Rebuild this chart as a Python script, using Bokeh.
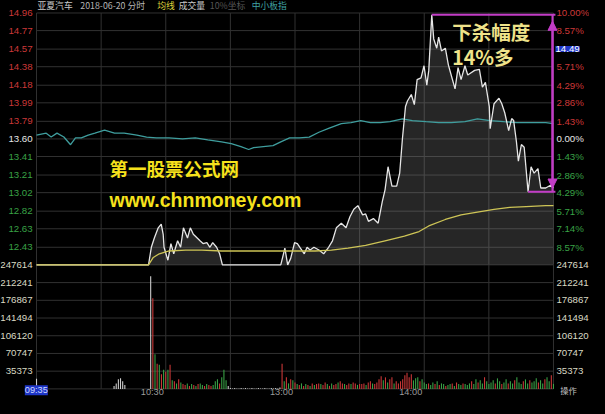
from bokeh.plotting import figure
from bokeh.models import Range1d, Label, Arrow, NormalHead
from bokeh.core.properties import value
from bokeh.embed import file_html
from bokeh.resources import INLINE

# ------------------------------------------------------------------ data
header_texts = ["亚夏汽车", "2018-06-20 分时", "均线", "成交量", "10%坐标", "中小板指"]
prev_close = 13.60
limit_up = 14.96
limit_down = 12.24

price_ticks = [14.96, 14.77, 14.57, 14.38, 14.18, 13.99, 13.79, 13.60,
               13.41, 13.21, 13.02, 12.82, 12.63, 12.43]
price_tick_labels = ["14.96", "14.77", "14.57", "14.38", "14.18", "13.99", "13.79", "13.60",
                     "13.41", "13.21", "13.02", "12.82", "12.63", "12.43"]
pct_tick_labels = ["10.00%", "8.57%", "7.14%", "5.71%", "4.29%", "2.86%", "1.43%", "0.00%",
                   "1.43%", "2.86%", "4.29%", "5.71%", "7.14%", "8.57%"]
cursor_price_label = "14.49"
vol_ticks = [247614, 212241, 176867, 141494, 106120, 70747, 35373]
vol_tick_labels = ["247614", "212241", "176867", "141494", "106120", "70747", "35373"]
time_tick_minutes = [60, 120, 180]
time_tick_labels = ["10:30", "13:00", "14:00"]
grid_minutes = [30, 60, 90, 120, 150, 180, 210]
cursor_time_label = "09:35"
corner_label = "操作"
drop_title = "下杀幅度"
drop_value = "14%多"
watermark_cn = "第一股票公式网"
watermark_url = "www.chnmoney.com"

# minute since 09:30 (0..240) and price
price_min = [0, 52.0, 53.3, 54.7, 56.5, 57.9, 58.8, 59.2, 61.0, 62.4,
             63.7, 65.5, 66.9, 68.2, 70.1, 71.4, 72.8, 74.6, 75.9, 77.3,
             79.1, 80.5, 81.8, 83.6, 85.0, 86.3, 113.4, 115.3, 116.6, 118.0,
             119.8, 121.1, 122.5, 124.3, 125.6, 127.0, 128.8, 131.1, 133.3, 135.6,
             137.4, 139.2, 141.5, 143.7, 145.5, 147.3, 149.2, 151.4, 152.8, 154.1,
             156.4, 158.6, 160.5, 161.8, 163.2, 165.0, 167.2, 168.6, 169.9, 171.3,
             172.2, 174.0, 175.4, 176.7, 178.5, 179.9, 181.2, 182.1, 183.5, 184.4,
             185.8, 186.7, 188.0, 189.8, 191.2, 192.5, 194.3, 195.7, 197.1, 198.9,
             200.2, 203.4, 205.6, 207.0, 208.4, 210.2, 210.6, 212.4, 214.7, 216.0,
             217.4, 219.2, 220.6, 221.5, 222.8, 223.7, 225.1, 226.4, 228.2, 229.6,
             231.0, 232.8, 234.1, 236.4, 238.6, 240]
price_val = [12.24, 12.24, 12.43, 12.53, 12.64, 12.68, 12.57, 12.43, 12.29, 12.47,
             12.36, 12.50, 12.43, 12.64, 12.53, 12.64, 12.57, 12.53, 12.50, 12.47,
             12.48, 12.43, 12.48, 12.43, 12.36, 12.24, 12.24, 12.42, 12.24, 12.31,
             12.48, 12.47, 12.42, 12.36, 12.43, 12.40, 12.43, 12.40, 12.36, 12.43,
             12.50, 12.64, 12.69, 12.64, 12.76, 12.84, 12.88, 12.78, 12.79, 12.71,
             12.74, 12.69, 12.92, 13.05, 13.30, 13.09, 13.09, 13.23, 13.61, 13.95,
             14.01, 14.08, 13.97, 14.24, 14.26, 14.39, 14.18, 14.34, 14.94, 14.68,
             14.58, 14.70, 14.55, 14.58, 14.40, 14.29, 14.14, 14.37, 14.24, 14.39,
             14.29, 14.34, 14.35, 14.16, 14.21, 13.95, 13.71, 13.98, 14.04, 13.98,
             13.88, 13.69, 13.82, 13.80, 13.57, 13.36, 13.54, 13.51, 13.03, 13.30,
             13.23, 13.28, 13.07, 13.07, 13.10, 13.07]

avg_min = [0, 52.0, 54.2, 57.0, 61.5, 69.2, 76.8, 85.9, 91.8, 106.7,
           114.3, 122.0, 129.3, 136.9, 144.6, 152.8, 161.8, 170.8, 177.6, 182.1,
           189.8, 197.1, 204.7, 212.4, 219.7, 227.3, 236.4, 240]
avg_val = [12.24, 12.24, 12.32, 12.36, 12.39, 12.40, 12.40, 12.39, 12.39, 12.39,
           12.39, 12.39, 12.39, 12.40, 12.42, 12.45, 12.50, 12.55, 12.60, 12.66,
           12.73, 12.78, 12.81, 12.84, 12.86, 12.87, 12.88, 12.88]

index_min = [0, 4.5, 6.8, 9.5, 12.7, 15.8, 18.1, 20.8, 24.0, 27.1,
             31.6, 36.2, 40.7, 46.6, 51.1, 55.6, 61.5, 67.8, 73.7, 79.5,
             85.9, 90.4, 94.9, 98.5, 100.8, 105.3, 109.8, 113.4, 117.5, 122.0,
             126.6, 131.1, 135.6, 141.5, 146.0, 150.5, 155.0, 159.5, 164.1, 169.9,
             174.5, 180.8, 186.7, 192.5, 198.9, 204.7, 210.6, 216.9, 222.8, 230.5,
             236.4, 240]
index_pct = [0.31, 0.46, 0.15, 0.46, 0.15, -0.46, 0.08, 0.08, 0.31, 0.46,
             0.69, 0.46, 0.46, 0.31, 0.15, 0.08, 0.08, 0.00, 0.08, -0.08,
             -0.23, -0.38, -0.61, -0.84, -0.69, -0.61, -0.53, -0.23, 0.08, 0.08,
             0.15, 0.53, 0.84, 1.22, 1.30, 1.45, 1.30, 1.30, 1.37, 1.60,
             1.45, 1.37, 1.30, 1.30, 1.37, 1.60, 1.45, 1.37, 1.30, 1.30,
             1.30, 1.22]

# per-minute volume (thousand shares), minute 0..240
vol_k = ([20] + [0] * 35 + [6, 11, 19, 21, 15, 8] + [0] * 11 + [225]
         + [181, 69, 50, 48, 29, 38, 34, 38, 48, 17, 15, 11, 19, 13, 10]
         + [8, 11, 6, 10, 8, 6, 10, 11, 8, 6, 10, 8]
         + [6, 8, 15, 19, 11, 23, 38, 17]
         + [6, 2, 1, 2, 1, 1, 2, 1, 2, 1, 1, 2, 1, 1, 2, 1, 1, 2, 1, 1, 2, 1, 2, 1, 3]
         + [50, 15, 23, 11, 19, 17, 13]
         + [10, 8, 11, 6, 10, 8, 6, 11, 8, 10]
         + [11, 10, 8, 13, 10, 6, 11, 8, 10, 13, 15, 11, 10, 8, 11, 10, 13, 11, 8, 10]
         + [10, 11, 8, 13, 15, 11, 10, 13]
         + [19, 25, 17, 23, 13, 19, 23, 11, 15]
         + [11, 15, 19]
         + [27, 32, 23, 29]
         + [17, 21, 23, 15, 19, 13]
         + [10, 11, 8, 13, 10, 15, 8, 11, 10, 6]
         + [8, 10, 11, 6, 13, 10, 8, 11, 10, 8]
         + [11, 15, 10, 19, 13, 17, 11, 23, 15, 10]
         + [13, 17, 11, 21, 15, 10, 13, 19, 11, 15]
         + [11, 17, 23, 13, 10, 15, 19, 11, 17, 13]
         + [15, 21, 13, 17, 11, 19, 23, 15, 27, 10])
vol_dir = ("w" * 54 + "rgrgrgrgrgrgrgr" + "rgrgrgrggrgr" + "rgggrggg" + "w" * 25
           + "rgrgrgr" + "grgrgrgrgr" + "rgrrgrgrrgrrgrrgrrgr" + "rrgrrgrr"
           + "rrgrgrrgr" + "rrr" + "rrrr" + "gggrgg" + "grggrgrggr" + "ggrgrggrgg"
           + "grggrggrgg" + "ggrggrggrg" + "grgggrggrg" + "ggrggrggrg")

# ------------------------------------------------------------------ layout
W, H = 589, 398
REF_W, REF_H = 605, 414
CH_L, CH_R = 37, 568      # chart left / right edge (layout px)
PR_T, PR_B = 13, 275      # price panel top / bottom
VO_B = 404                # volume panel bottom


def mx(px):
    return (px - CH_L) * 240.0 / (CH_R - CH_L)


def py(px):
    return limit_up - (px - PR_T) * (limit_up - limit_down) / (PR_B - PR_T)


def vy(px):
    return vol_ticks[0] * (VO_B - px) / (VO_B - PR_B)


def to_pct(pr):
    return (pr / prev_close - 1.0) * 100.0


def fs(px):
    return "%.1fpx" % (px * W / REF_W)


RED, GREEN, WHITE = "#cc3838", "#39a246", "#e6e6e6"
GRID = "#313131"
MAG = "#c23cc6"
LBL = "Liberation Sans"
CJK = "Noto Sans CJK SC"

p = figure(width=W, height=H, output_backend="svg", toolbar_location=None,
           x_range=Range1d(mx(0), mx(REF_W)), y_range=Range1d(py(REF_H), py(0)),
           x_axis_location=None, y_axis_location=None, min_border=0,
           background_fill_color="#000000", border_fill_color="#000000",
           outline_line_color=None)
p.xgrid.visible = False
p.ygrid.visible = False
p.extra_y_ranges = {"vol": Range1d(vy(REF_H), vy(0)),
                    "pct": Range1d(to_pct(py(REF_H)), to_pct(py(0)))}

try:
    from bokeh.models import GlobalInlineStyleSheet
    p.stylesheets = [GlobalInlineStyleSheet(css="html, body { background: #000000; }")]
    _css_ok = True
except Exception:
    _css_ok = False

# ---------------- grid
hl = price_ticks + [limit_down]
p.segment(x0=[0] * len(hl), x1=[240] * len(hl), y0=hl, y1=hl, line_color=GRID, line_width=1)
vl = vol_ticks[1:] + [0]
p.segment(x0=[0] * len(vl), x1=[240] * len(vl), y0=vl, y1=vl, line_color=GRID,
          line_width=1, y_range_name="vol")
vx = grid_minutes + [0, 240]
p.segment(x0=vx, x1=vx, y0=[limit_down] * len(vx), y1=[limit_up] * len(vx),
          line_color=GRID, line_width=1)
p.segment(x0=vx, x1=vx, y0=[0] * len(vx), y1=[vol_ticks[0]] * len(vx),
          line_color=GRID, line_width=1, y_range_name="vol")

# ---------------- volume bars
n = min(len(vol_k), len(vol_dir), 241)
cmap = {"r": RED, "g": GREEN, "w": "#cfcfcf"}
bx = [i for i in range(n) if vol_k[i] > 0]
p.vbar(x=bx, top=[vol_k[i] * 1000 for i in bx], bottom=0, width=0.5,
       fill_color=[cmap[vol_dir[i]] for i in bx], line_color=None, y_range_name="vol")

# ---------------- price area, index, price, average
p.varea(x=price_min, y1=limit_down, y2=price_val, fill_color="#8a8a8a", fill_alpha=0.28)
p.line(index_min, index_pct, line_color="#3f9e9e", line_width=1.3, y_range_name="pct")
p.line(price_min, price_val, line_color=WHITE, line_width=1.3)
p.line(avg_min, avg_val, line_color="#cdc456", line_width=1.3)

# ---------------- drop annotation (from the high to the later low)
i_hi = max(range(len(price_val)), key=lambda i: price_val[i])
hi_m, hi_p = price_min[i_hi], price_val[i_hi]
i_lo = min(range(i_hi, len(price_val)), key=lambda i: price_val[i])
lo_m, lo_p = price_min[i_lo], price_val[i_lo]
xa = mx(567)
p.segment(x0=[hi_m, lo_m], x1=[mx(570), mx(570)], y0=[hi_p, lo_p], y1=[hi_p, lo_p],
          line_color=MAG, line_width=2)
p.segment(x0=[xa], x1=[xa], y0=[hi_p], y1=[lo_p], line_color=MAG, line_width=2)
p.add_layout(Arrow(start=NormalHead(size=9, fill_color=MAG, line_color=MAG),
                   end=NormalHead(size=9, fill_color=MAG, line_color=MAG),
                   x_start=xa, y_start=lo_p + 0.04, x_end=xa, y_end=hi_p - 0.07,
                   line_color=MAG, line_width=2))
p.text(x=[mx(464), mx(464)], y=[py(32), py(58)], text=[drop_title, drop_value],
       text_color="#efe38a", text_font=value(CJK), text_font_style="bold",
       text_font_size=fs(20), text_baseline="middle", text_align="left")

# ---------------- watermark
p.text(x=[mx(112)], y=[py(174)], text=[watermark_cn], text_color="#f6e21c",
       text_font=value(CJK), text_font_style="bold", text_font_size=fs(19),
       text_baseline="middle", text_align="left")
p.text(x=[mx(112)], y=[py(207)], text=[watermark_url], text_color="#f6e21c",
       text_font=value(LBL), text_font_style="bold", text_font_size=fs(20),
       text_baseline="middle", text_align="left")

# ---------------- price / percent tick labels
def side_color(v):
    if abs(v - prev_close) < 1e-9:
        return WHITE
    return RED if v > prev_close else GREEN


lc = [side_color(v) for v in price_ticks]
p.text(x=[mx(33)] * len(price_ticks), y=price_ticks, text=price_tick_labels,
       text_color=lc, text_font=value(LBL), text_font_size=fs(10),
       text_align="right", text_baseline="middle")
keep = [i for i in range(len(price_ticks)) if i != 2]
p.text(x=[mx(571)] * len(keep), y=[price_ticks[i] for i in keep],
       text=[pct_tick_labels[i] for i in keep], text_color=[lc[i] for i in keep],
       text_font=value(LBL), text_font_size=fs(10), text_align="left", text_baseline="middle")
p.add_layout(Label(x=mx(570), y=price_ticks[2], text=cursor_price_label, text_color="#ffffff",
                   text_font=LBL, text_font_size=fs(10), text_baseline="middle",
                   background_fill_color="#1e36c8", background_fill_alpha=1.0))

# ---------------- volume tick labels
p.text(x=[mx(33)] * len(vol_ticks), y=vol_ticks, text=vol_tick_labels,
       text_color="#d9d9c4", text_font=value(LBL), text_font_size=fs(10),
       text_align="right", text_baseline="middle", y_range_name="vol")
p.text(x=[mx(571)] * len(vol_ticks), y=vol_ticks, text=vol_tick_labels,
       text_color="#d9d9c4", text_font=value(LBL), text_font_size=fs(10),
       text_align="left", text_baseline="middle", y_range_name="vol")

# ---------------- time labels (kept fully inside the canvas)
p.text(x=time_tick_minutes, y=[vy(402.5)] * len(time_tick_minutes), text=time_tick_labels,
       text_color="#9c9c9c", text_font=value(LBL), text_font_size=fs(9.5),
       text_align="right", text_baseline="top", x_offset=-2, y_range_name="vol")
p.add_layout(Label(x=mx(25), y=vy(405.5), y_range_name="vol", text=cursor_time_label,
                   text_color="#cfd8ff", text_font=LBL, text_font_size=fs(9.5),
                   text_baseline="middle", background_fill_color="#1e36c8",
                   background_fill_alpha=1.0))
p.text(x=[mx(575)], y=[vy(405)], text=[corner_label], text_color="#c4c4c4",
       text_font=value(CJK), text_font_size=fs(8.5), text_align="left",
       text_baseline="middle", y_range_name="vol")

# ---------------- header
header_px = [38, 82, 161, 183, 215, 258]
header_colors = ["#c8c8c8", "#b4b4b4", "#d8cf3a", "#c8c8c8", "#555555", "#3fa3a3"]
p.text(x=[mx(v) for v in header_px], y=[py(5)] * len(header_px), text=header_texts,
       text_color=header_colors, text_font=value(CJK), text_font_size=fs(9),
       text_align="left", text_baseline="middle")

html = file_html(p, INLINE)
if not _css_ok:
    html = html.replace("<body>", '<body style="background:#000000;">', 1)
open("out.html", "w").write(html)
